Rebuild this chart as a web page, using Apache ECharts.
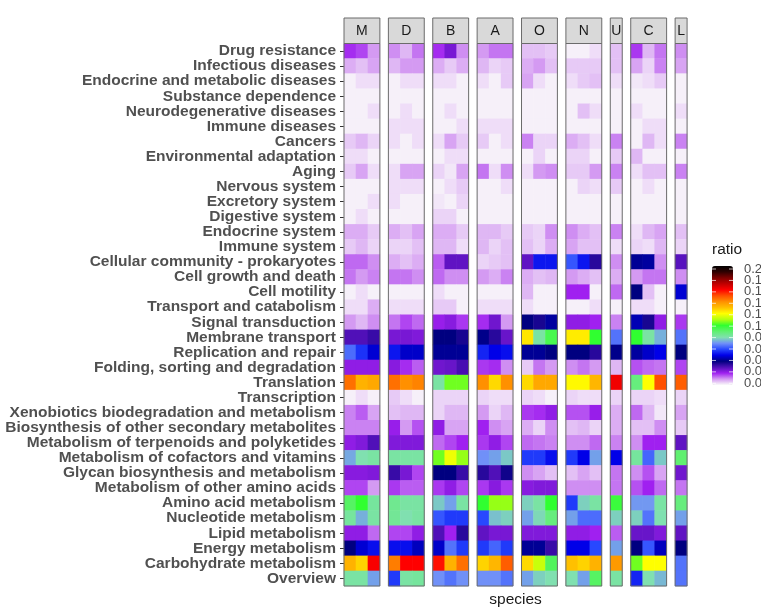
<!DOCTYPE html>
<html>
<head>
<meta charset="utf-8">
<script src="https://cdn.jsdelivr.net/npm/echarts@6/dist/echarts.min.js"></script>
<style>
  html, body { margin: 0; padding: 0; background: #fff; }
  #main { width: 761px; height: 612px; }
</style>
</head>
<body>
<div id="main"></div>
<script>
// pathways, top to bottom
var pathways = [
  'Drug resistance', 'Infectious diseases', 'Endocrine and metabolic diseases',
  'Substance dependence', 'Neurodegenerative diseases', 'Immune diseases', 'Cancers',
  'Environmental adaptation', 'Aging', 'Nervous system', 'Excretory system',
  'Digestive system', 'Endocrine system', 'Immune system',
  'Cellular community - prokaryotes', 'Cell growth and death', 'Cell motility',
  'Transport and catabolism', 'Signal transduction', 'Membrane transport',
  'Replication and repair', 'Folding, sorting and degradation', 'Translation',
  'Transcription', 'Xenobiotics biodegradation and metabolism',
  'Biosynthesis of other secondary metabolites',
  'Metabolism of terpenoids and polyketides', 'Metabolism of cofactors and vitamins',
  'Glycan biosynthesis and metabolism', 'Metabolism of other amino acids',
  'Amino acid metabolism', 'Nucleotide metabolism', 'Lipid metabolism',
  'Energy metabolism', 'Carbohydrate metabolism', 'Overview'
];

var facets = ['M', 'D', 'B', 'A', 'O', 'N', 'U', 'C', 'L'];

// one row per pathway, one value per species of the facet
var valM = [
  [0.019,0.017,0.010],[0.008,0.006,0.009],[0.001,0.003,0.003],[0.001,0.001,0.001],
  [0.001,0.001,0.003],[0.001,0.001,0.001],[0.005,0.007,0.004],[0.003,0.003,0.001],
  [0.005,0.009,0.003],[0.001,0.001,0.001],[0.001,0.001,0.003],[0.001,0.003,0.001],
  [0.008,0.008,0.005],[0.005,0.007,0.004],[0.014,0.014,0.011],[0.013,0.010,0.012],
  [0.001,0.003,0.001],[0.003,0.003,0.008],[0.010,0.007,0.011],[0.030,0.030,0.033],
  [0.065,0.057,0.048],[0.022,0.022,0.022],[0.145,0.133,0.135],[0.001,0.003,0.001],
  [0.012,0.015,0.009],[0.012,0.012,0.012],[0.022,0.024,0.030],[0.073,0.080,0.082],
  [0.023,0.023,0.024],[0.017,0.017,0.010],[0.092,0.100,0.083],[0.083,0.074,0.082],
  [0.022,0.022,0.014],[0.040,0.048,0.052],[0.133,0.127,0.161],[0.082,0.082,0.072]
];
var valD = [
  [0.011,0.007,0.013],[0.007,0.010,0.010],[0.001,0.003,0.003],[0.001,0.001,0.001],
  [0.001,0.003,0.001],[0.003,0.003,0.003],[0.003,0.001,0.003],[0.001,0.001,0.001],
  [0.003,0.009,0.009],[0.003,0.003,0.003],[0.003,0.001,0.001],[0.001,0.001,0.001],
  [0.008,0.006,0.009],[0.004,0.004,0.006],[0.008,0.006,0.008],[0.013,0.013,0.011],
  [0.001,0.001,0.001],[0.003,0.003,0.003],[0.013,0.017,0.014],[0.025,0.025,0.024],
  [0.053,0.047,0.047],[0.023,0.019,0.015],[0.145,0.140,0.142],[0.005,0.003,0.001],
  [0.006,0.007,0.007],[0.021,0.010,0.016],[0.024,0.024,0.024],[0.082,0.082,0.082],
  [0.033,0.025,0.017],[0.018,0.015,0.015],[0.085,0.082,0.082],[0.084,0.080,0.082],
  [0.017,0.017,0.022],[0.052,0.052,0.046],[0.143,0.160,0.160],[0.058,0.082,0.083]
];
var valB = [
  [0.019,0.025,0.011],[0.008,0.005,0.008],[0.003,0.003,0.001],[0.001,0.001,0.001],
  [0.001,0.003,0.001],[0.001,0.001,0.003],[0.003,0.009,0.005],[0.001,0.003,0.003],
  [0.004,0.002,0.009],[0.001,0.003,0.005],[0.002,0.001,0.004],[0.004,0.004,0.001],
  [0.008,0.008,0.005],[0.007,0.007,0.003],[0.015,0.028,0.028],[0.014,0.011,0.011],
  [0.003,0.001,0.001],[0.005,0.005,0.001],[0.021,0.023,0.018],[0.040,0.040,0.037],
  [0.042,0.042,0.042],[0.026,0.027,0.031],[0.082,0.105,0.105],[0.004,0.004,0.004],
  [0.004,0.007,0.007],[0.022,0.009,0.009],[0.014,0.017,0.020],[0.105,0.118,0.108],
  [0.040,0.040,0.033],[0.018,0.022,0.017],[0.077,0.072,0.082],[0.062,0.058,0.058],
  [0.030,0.020,0.035],[0.047,0.066,0.058],[0.158,0.133,0.145],[0.070,0.066,0.070]
];
var valA = [
  [0.010,0.013,0.013],[0.007,0.004,0.005],[0.003,0.001,0.005],[0.001,0.001,0.001],
  [0.001,0.001,0.001],[0.003,0.003,0.003],[0.005,0.001,0.003],[0.001,0.001,0.001],
  [0.013,0.003,0.011],[0.001,0.001,0.003],[0.001,0.001,0.001],[0.001,0.001,0.001],
  [0.007,0.007,0.005],[0.007,0.004,0.006],[0.004,0.005,0.006],[0.010,0.008,0.012],
  [0.001,0.001,0.001],[0.003,0.003,0.003],[0.019,0.026,0.010],[0.041,0.035,0.027],
  [0.055,0.050,0.052],[0.018,0.019,0.011],[0.140,0.126,0.140],[0.004,0.003,0.003],
  [0.010,0.004,0.007],[0.020,0.011,0.009],[0.018,0.022,0.017],[0.070,0.072,0.077],
  [0.035,0.030,0.038],[0.018,0.023,0.018],[0.100,0.108,0.108],[0.060,0.076,0.078],
  [0.028,0.025,0.025],[0.058,0.064,0.058],[0.127,0.132,0.148],[0.070,0.070,0.066]
];
var valO = [
  [0.006,0.006,0.005],[0.008,0.010,0.006],[0.009,0.003,0.001],[0.001,0.001,0.001],
  [0.001,0.001,0.001],[0.001,0.001,0.001],[0.012,0.004,0.004],[0.001,0.004,0.001],
  [0.003,0.010,0.011],[0.001,0.001,0.001],[0.001,0.001,0.001],[0.001,0.001,0.001],
  [0.005,0.004,0.011],[0.006,0.004,0.008],[0.028,0.053,0.053],[0.008,0.006,0.007],
  [0.007,0.001,0.001],[0.003,0.001,0.001],[0.040,0.037,0.043],[0.124,0.082,0.095],
  [0.042,0.042,0.040],[0.005,0.013,0.010],[0.126,0.135,0.135],[0.004,0.003,0.001],
  [0.018,0.019,0.022],[0.008,0.004,0.011],[0.014,0.013,0.012],[0.058,0.058,0.052],
  [0.011,0.009,0.006],[0.023,0.024,0.024],[0.078,0.082,0.100],[0.072,0.079,0.088],
  [0.024,0.024,0.024],[0.042,0.042,0.033],[0.126,0.113,0.093],[0.072,0.078,0.080]
];
var valN = [
  [0.001,0.001,0.003],[0.005,0.005,0.005],[0.003,0.005,0.006],[0.001,0.001,0.001],
  [0.001,0.006,0.003],[0.001,0.001,0.001],[0.008,0.006,0.003],[0.004,0.004,0.001],
  [0.005,0.005,0.010],[0.001,0.004,0.003],[0.001,0.001,0.001],[0.001,0.001,0.001],
  [0.011,0.008,0.006],[0.009,0.006,0.006],[0.062,0.053,0.035],[0.010,0.008,0.006],
  [0.020,0.020,0.001],[0.001,0.001,0.003],[0.022,0.022,0.020],[0.123,0.123,0.100],
  [0.040,0.040,0.035],[0.011,0.013,0.010],[0.121,0.121,0.132],[0.004,0.003,0.003],
  [0.016,0.016,0.021],[0.006,0.007,0.004],[0.011,0.011,0.014],[0.058,0.050,0.072],
  [0.006,0.009,0.006],[0.011,0.011,0.011],[0.058,0.078,0.082],[0.072,0.065,0.065],
  [0.022,0.022,0.020],[0.050,0.050,0.060],[0.130,0.127,0.133],[0.080,0.072,0.092]
];
var valU = [
  [0.006],[0.006],[0.003],[0.001],[0.001],[0.001],[0.012],[0.005],[0.012],[0.005],
  [0.001],[0.001],[0.012],[0.003],[0.011],[0.008],[0.014],[0.001],[0.012],[0.066],
  [0.041],[0.007],[0.162],[0.004],[0.008],[0.008],[0.012],[0.050],[0.013],[0.013],
  [0.098],[0.078],[0.015],[0.072],[0.138],[0.082]
];
var valC = [
  [0.018,0.007,0.013],[0.009,0.004,0.012],[0.002,0.003,0.005],[0.001,0.001,0.001],
  [0.003,0.001,0.001],[0.001,0.003,0.003],[0.001,0.007,0.003],[0.007,0.001,0.001],
  [0.003,0.006,0.006],[0.001,0.003,0.001],[0.001,0.001,0.001],[0.001,0.001,0.001],
  [0.003,0.007,0.009],[0.004,0.003,0.007],[0.042,0.043,0.011],[0.010,0.013,0.013],
  [0.040,0.006,0.001],[0.003,0.003,0.001],[0.045,0.037,0.022],[0.100,0.082,0.074],
  [0.043,0.047,0.050],[0.016,0.014,0.013],[0.088,0.120,0.150],[0.004,0.004,0.003],
  [0.014,0.007,0.002],[0.006,0.006,0.011],[0.011,0.020,0.020],[0.083,0.064,0.077],
  [0.011,0.016,0.009],[0.016,0.020,0.014],[0.071,0.071,0.082],[0.078,0.066,0.080],
  [0.027,0.027,0.024],[0.040,0.062,0.046],[0.105,0.120,0.120],[0.055,0.080,0.075]
];
var valL = [
  [0.011],[0.009],[0.001],[0.001],[0.003],[0.001],[0.012],[0.001],[0.012],[0.001],
  [0.001],[0.001],[0.006],[0.004],[0.029],[0.011],[0.048],[0.001],[0.018],[0.066],
  [0.040],[0.017],[0.148],[0.004],[0.009],[0.005],[0.028],[0.090],[0.026],[0.013],
  [0.088],[0.072],[0.028],[0.040],[0.066],[0.066]
];
var facetValues = [valM, valD, valB, valA, valO, valN, valU, valC, valL];

var legendTicks = ['0.20', '0.18', '0.16', '0.14', '0.12', '0.10', '0.08', '0.06', '0.04', '0.02', '0.00'];

// colour ramp from 0 to 0.2, one stop every 0.01
var palette = [
  '#FAFAFA', '#D49AF2', '#A020F0', '#5010B8', '#000080', '#0000E8', '#2848FF',
  '#7090F8', '#80E0B0', '#60F070', '#30FF30', '#B0FF10', '#FFFF00', '#FFC000',
  '#FF9000', '#FF5000', '#FF0000', '#C00000', '#800000', '#300000', '#000000'
];

var chart = echarts.init(document.getElementById('main'));
var font = 'Liberation Sans, Arial, sans-serif';

// panel layout
var plotLeft = 344, plotTop = 43.5, plotH = 542.5, colW = 11.96, gapW = 8.5;
var stripTop = 18, stripH = 25.5;

var grids = [], xAxes = [], yAxes = [], series = [], graphics = [];
var x = plotLeft;
facets.forEach(function (f, i) {
  var vals = facetValues[i];
  var nCol = vals[0].length;
  var w = nCol * colW;
  var names = [];
  for (var c = 0; c < nCol; c++) names.push(f + (c + 1));

  grids.push({ left: x, top: plotTop, width: w, height: plotH });
  xAxes.push({
    type: 'category', gridIndex: i, data: names,
    axisLine: { show: false },
    axisLabel: { show: false },
    axisTick: { alignWithLabel: true, length: 4, lineStyle: { color: '#333' } },
    splitLine: { show: false }
  });
  yAxes.push({
    type: 'category', gridIndex: i, data: pathways, inverse: true,
    axisLine: { show: false },
    axisTick: { show: i === 0, alignWithLabel: true, length: 4, lineStyle: { color: '#333' } },
    axisLabel: {
      show: i === 0, margin: 8, interval: 0,
      fontFamily: font, fontWeight: 'bold', fontSize: 15.5, color: '#505050'
    },
    splitLine: { show: false }
  });

  var data = [];
  vals.forEach(function (row, r) {
    row.forEach(function (v, c) { data.push([c, r, v]); });
  });
  series.push({
    type: 'heatmap', xAxisIndex: i, yAxisIndex: i, data: data,
    itemStyle: { borderWidth: 0 },
    emphasis: { disabled: true }
  });

  // panel border + strip
  graphics.push({
    type: 'rect', z: 100,
    shape: { x: x, y: plotTop, width: w, height: plotH },
    style: { fill: 'none', stroke: '#6b6b6b', lineWidth: 1 }
  });
  graphics.push({
    type: 'rect', z: 100,
    shape: { x: x, y: stripTop, width: w, height: stripH },
    style: { fill: '#D9D9D9', stroke: '#6b6b6b', lineWidth: 1 }
  });
  graphics.push({
    type: 'text', z: 101, x: x + w / 2, y: stripTop + stripH / 2,
    style: { text: f, align: 'center', verticalAlign: 'middle', fontFamily: font, fontSize: 14, fill: '#1A1A1A' }
  });
  x += w + gapW;
});

// x axis title
graphics.push({
  type: 'text', z: 101, x: (plotLeft + x - gapW) / 2, y: 600,
  style: { text: 'species', align: 'center', verticalAlign: 'middle', fontFamily: font, fontSize: 15.5, fill: '#1A1A1A' }
});

// legend title, labels and white ticks
var barLeft = 712, barTop = 266, barW = 21, barH = 119;
graphics.push({
  type: 'text', z: 101, x: barLeft, y: 250,
  style: { text: 'ratio', align: 'left', verticalAlign: 'middle', fontFamily: font, fontSize: 15.5, fill: '#1A1A1A' }
});
var tickTop = 269, tickStep = 11.43;
legendTicks.forEach(function (t, k) {
  var ty = tickTop + k * tickStep;
  graphics.push({
    type: 'text', z: 101, x: 744, y: ty,
    style: { text: t, align: 'left', verticalAlign: 'middle', fontFamily: font, fontSize: 13, fill: '#4D4D4D' }
  });
  graphics.push({ type: 'line', z: 101, shape: { x1: barLeft, y1: ty, x2: barLeft + 4, y2: ty }, style: { stroke: 'rgba(255,255,255,0.7)', lineWidth: 1 } });
  graphics.push({ type: 'line', z: 101, shape: { x1: barLeft + barW - 4, y1: ty, x2: barLeft + barW, y2: ty }, style: { stroke: 'rgba(255,255,255,0.7)', lineWidth: 1 } });
});

chart.setOption({
  animation: false,
  backgroundColor: '#fff',
  grid: grids,
  xAxis: xAxes,
  yAxis: yAxes,
  visualMap: {
    type: 'continuous', min: 0, max: 0.2,
    seriesIndex: series.map(function (s, i) { return i; }),
    inRange: { color: palette },
    left: barLeft, top: barTop, itemWidth: barW, itemHeight: barH,
    padding: 0, calculable: false, hoverLink: false,
    textStyle: { color: 'transparent' }
  },
  series: series,
  graphic: { elements: graphics }
});
</script>
</body>
</html>
